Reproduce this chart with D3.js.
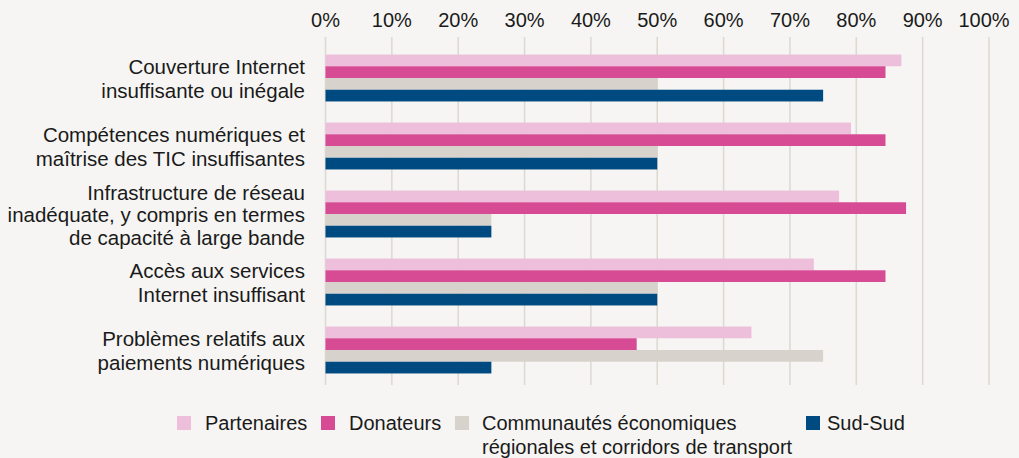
<!DOCTYPE html>
<html>
<head>
<meta charset="utf-8">
<script src="https://cdn.jsdelivr.net/npm/d3@7"></script>
<style>
  body { margin: 0; background: #f6f5f3; }
  svg { display: block; font-family: "Liberation Sans", Arial, sans-serif; }
</style>
</head>
<body>
<div id="chart"></div>
<script>
// categories (label lines)
var categories = [
  ["Couverture Internet", "insuffisante ou inégale"],
  ["Compétences numériques et", "maîtrise des TIC insuffisantes"],
  ["Infrastructure de réseau", "inadéquate, y compris en termes", "de capacité à large bande"],
  ["Accès aux services", "Internet insuffisant"],
  ["Problèmes relatifs aux", "paiements numériques"]
];
var seriesNames = ["Partenaires", "Donateurs", "Communautés économiques|régionales et corridors de transport", "Sud-Sud"];
var partenaires = [86.8, 79.2, 77.4, 73.6, 64.2];
var donateurs   = [84.4, 84.4, 87.5, 84.4, 46.9];
var cer         = [50, 50, 25, 50, 75];
var sudSud      = [75, 50, 25, 50, 25];
var colors = ["#eebfdb", "#d64b94", "#d7d2cc", "#004a82"];
var ticks = [0, 10, 20, 30, 40, 50, 60, 70, 80, 90, 100];

var W = 1019, H = 458;
var margin = {top: 44, left: 325.5, right: 30, bottom: 74};

var svg = d3.select("#chart").append("svg")
  .attr("width", W).attr("height", H);

svg.append("rect").attr("width", W).attr("height", H).attr("fill", "#f6f5f3");

var x = d3.scaleLinear().domain([0, 100]).range([margin.left, 989]);
var y = d3.scaleBand()
  .domain(d3.range(categories.length))
  .range([margin.top, H - margin.bottom])
  .paddingInner(0.31).paddingOuter(0.155);
var ySub = d3.scaleBand().domain(d3.range(4)).range([0, y.bandwidth()]);

// gridlines
svg.append("g").selectAll("line")
  .data(ticks).enter().append("line")
  .attr("x1", function(d) { return x(d); })
  .attr("x2", function(d) { return x(d); })
  .attr("y1", 37).attr("y2", 385)
  .attr("stroke", "#dcd8d2").attr("stroke-width", 1.5);

// top axis labels
svg.append("g").selectAll("text")
  .data(ticks).enter().append("text")
  .attr("x", function(d) { return x(d) - (d == 100 ? 5 : 0); })
  .attr("y", 27)
  .attr("text-anchor", "middle")
  .attr("font-size", 20)
  .attr("fill", "#1a1a1a")
  .text(function(d) { return d + "%"; });

// bars
var series = [partenaires, donateurs, cer, sudSud];
series.forEach(function(vals, s) {
  svg.append("g").selectAll("rect")
    .data(vals).enter().append("rect")
    .attr("x", x(0))
    .attr("y", function(d, i) { return y(i) + ySub(s); })
    .attr("width", function(d) { return x(d) - x(0); })
    .attr("height", ySub.bandwidth())
    .attr("fill", colors[s]);
});

// category labels
categories.forEach(function(lines, i) {
  var step = lines.length > 2 ? 22.5 : 23.5;
  var cy = y(i) + y.bandwidth() / 2 + 1;
  var t = svg.append("text")
    .attr("text-anchor", "end")
    .attr("font-size", 20.5)
    .attr("fill", "#1a1a1a");
  lines.forEach(function(l, k) {
    t.append("tspan")
      .attr("x", 305)
      .attr("y", cy + (k - (lines.length - 1) / 2) * step + 7)
      .text(l);
  });
});

// legend
var legX = [177, 321, 455, 806];
seriesNames.forEach(function(n, s) {
  var g = svg.append("g");
  g.append("rect").attr("x", legX[s]).attr("y", 416)
    .attr("width", 14).attr("height", 14).attr("fill", colors[s]);
  var t = g.append("text").attr("font-size", 20).attr("fill", "#1a1a1a");
  n.split("|").forEach(function(l, k) {
    t.append("tspan").attr("x", legX[s] + (s == 3 ? 21 : (s == 2 ? 27 : 28)))
      .attr("y", 430 + k * 23.5).text(l);
  });
});
</script>
</body>
</html>
